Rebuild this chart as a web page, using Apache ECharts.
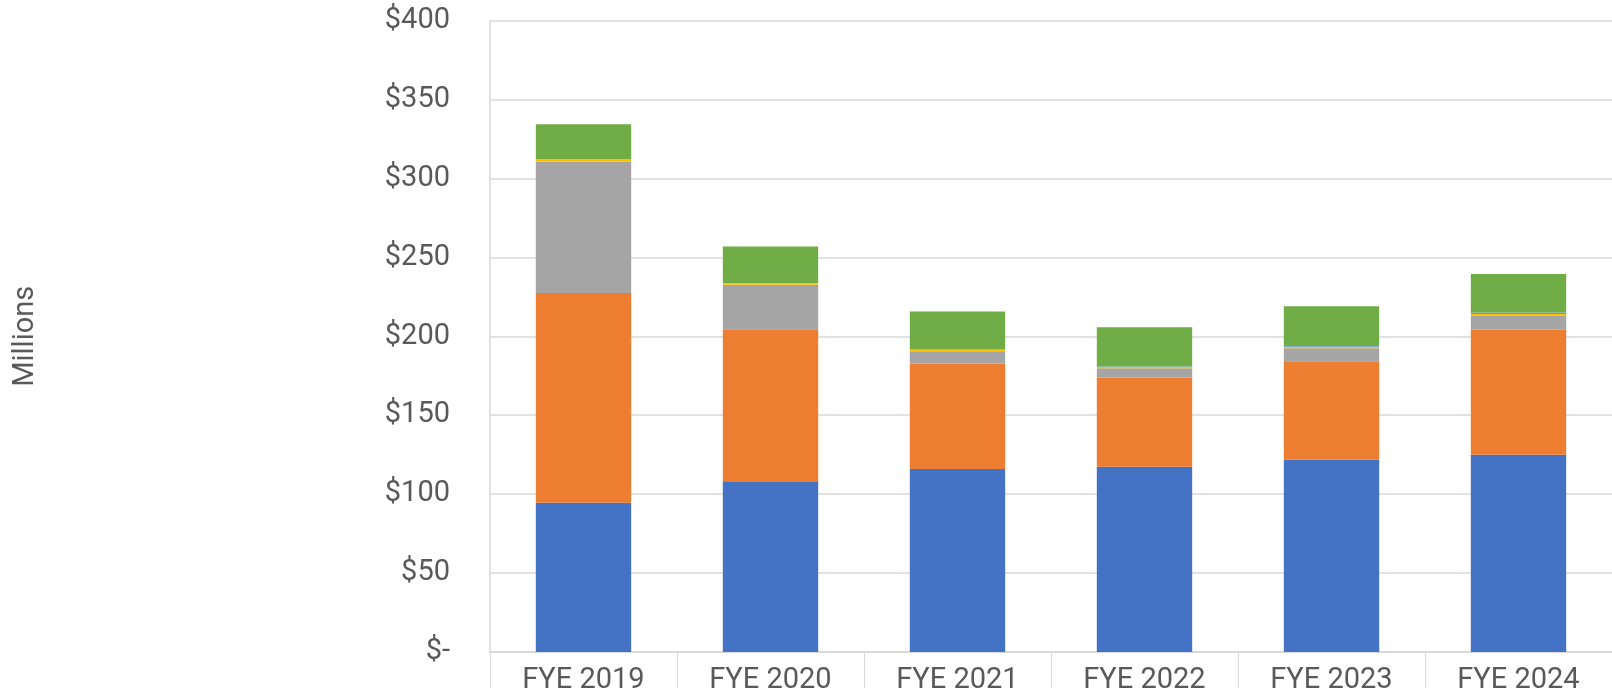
<!DOCTYPE html>
<html>
<head>
<meta charset="utf-8">
<script src="https://cdn.jsdelivr.net/npm/echarts@6/dist/echarts.min.js"></script>
<style>
html,body{margin:0;padding:0;background:#fff;}
#chart{width:1612px;height:688px;}
</style>
</head>
<body>
<div id="chart"></div>
<script>
const categories = ['FYE 2019','FYE 2020','FYE 2021','FYE 2022','FYE 2023','FYE 2024'];
const series1 = [94.5, 108.1, 116.0, 117.3, 121.8, 125.0];
const series2 = [133.0, 96.4, 66.8, 56.6, 62.4, 79.1];
const series3 = [83.3, 28.2, 7.8, 5.9, 8.3, 8.8];
const series4 = [1.3, 0.9, 0.9, 0.8, 0.9, 1.2];
const series5 = [0.2, 0.2, 0.3, 0.2, 0.4, 1.0];
const series6 = [22.0, 23.1, 23.9, 24.9, 25.3, 24.4];
const yTicks = {min: 0, max: 400, interval: 50};

const colors = ['#4472C4','#ED7D31','#A5A5A5','#FFC000','#5B9BD5','#70AD47'];
const allSeries = [series1, series2, series3, series4, series5, series6];
const names = ['Series 1','Series 2','Series 3','Series 4','Series 5','Series 6'];

const chart = echarts.init(document.getElementById('chart'));
chart.setOption({
  animation: false,
  grid: {left: 490, top: 20.6, right: 0, bottom: 36, containLabel: false, outerBoundsMode: 'none'},
  xAxis: {
    type: 'category',
    data: categories,
    axisLine: {show: true, lineStyle: {color: '#d9d9d9', width: 2}},
    axisTick: {show: true, length: 40, lineStyle: {color: '#d9d9d9', width: 1}, alignWithLabel: false},
    axisLabel: {color: '#595959', fontFamily: 'Roboto', fontSize: 29, margin: 14}
  },
  yAxis: {
    type: 'value',
    min: yTicks.min, max: yTicks.max, interval: yTicks.interval,
    name: 'Millions',
    nameLocation: 'middle',
    nameGap: 450,
    nameTextStyle: {color: '#595959', fontFamily: 'Roboto', fontSize: 29},
    axisLine: {show: true, lineStyle: {color: '#d9d9d9', width: 1.5}},
    axisTick: {show: false},
    splitLine: {lineStyle: {color: '#d9d9d9', width: 1.5}},
    axisLabel: {
      color: '#595959', fontFamily: 'Roboto', fontSize: 29, margin: 40,
      formatter: v => v === 0 ? '$-' : '$' + v
    }
  },
  series: allSeries.map((d, i) => ({
    name: names[i],
    type: 'bar',
    stack: 'total',
    data: d,
    barWidth: '51%',
    itemStyle: {color: colors[i]}
  }))
});
</script>
</body>
</html>
